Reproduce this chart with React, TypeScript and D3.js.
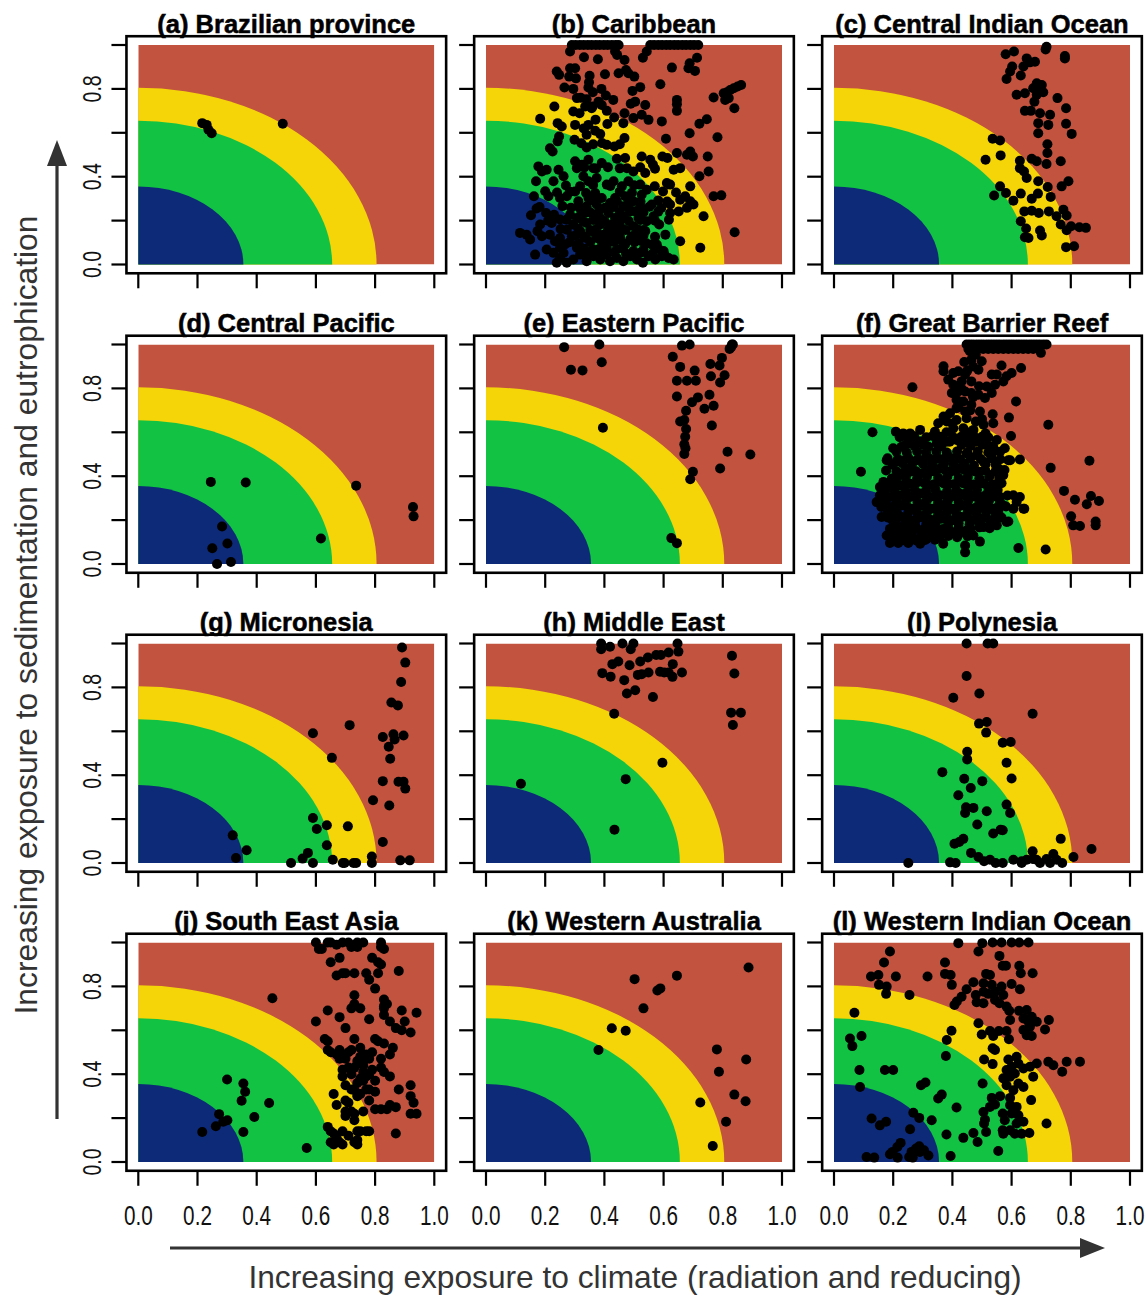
import React from "react";
import * as d3 from "d3";

// ---------- DATA ----------
const titles = [
  "(a) Brazilian province",
  "(b) Caribbean",
  "(c) Central Indian Ocean",
  "(d) Central Pacific",
  "(e) Eastern Pacific",
  "(f) Great Barrier Reef",
  "(g) Micronesia",
  "(h) Middle East",
  "(I) Polynesia",
  "(j) South East Asia",
  "(k) Western Australia",
  "(l) Western Indian Ocean",
];

const xTicks = [0, 0.2, 0.4, 0.6, 0.8, 1.0];
const yTicks = [0, 0.2, 0.4, 0.6, 0.8, 1.0];
const yTickLabels = [0, 0.4, 0.8];
const zoneRadii = [0.805, 0.655, 0.355];

const brazil: [number, number][] = [
  [0.216, 0.644], [0.231, 0.636], [0.237, 0.614], [0.248, 0.598], [0.488, 0.641],
];

const caribbean: [number, number][] = [
  [0.29, 1], [0.303, 1], [0.317, 1], [0.33, 1], [0.344, 1], [0.357, 1], [0.371, 1], [0.384, 1], [0.398, 1], [0.411, 1], [0.425, 1], [0.438, 1], [0.448, 1],
  [0.555, 1], [0.568, 1], [0.582, 1], [0.595, 1], [0.609, 1], [0.622, 1], [0.636, 1], [0.649, 1], [0.663, 1], [0.676, 1], [0.69, 1], [0.703, 1], [0.717, 1],
  [0.284, 0.97], [0.436, 0.97], [0.543, 0.97], [0.443, 0.955],
  [0.331, 0.944], [0.378, 0.935], [0.468, 0.932], [0.53, 0.942], [0.713, 0.942], [0.688, 0.917], [0.628, 0.897], [0.706, 0.882], [0.684, 0.894],
  [0.239, 0.879], [0.247, 0.864], [0.284, 0.894], [0.301, 0.894], [0.402, 0.867], [0.448, 0.871], [0.473, 0.886], [0.481, 0.871], [0.501, 0.856],
  [0.281, 0.856], [0.304, 0.848], [0.348, 0.83], [0.265, 0.806], [0.295, 0.8], [0.346, 0.806], [0.361, 0.785], [0.521, 0.808], [0.495, 0.791],
  [0.405, 0.77], [0.307, 0.758], [0.34, 0.753], [0.38, 0.742], [0.504, 0.742], [0.489, 0.732], [0.645, 0.75], [0.645, 0.73], [0.645, 0.7],
  [0.769, 0.761], [0.803, 0.78], [0.814, 0.785], [0.825, 0.795], [0.837, 0.803], [0.85, 0.811], [0.862, 0.818], [0.82, 0.758], [0.808, 0.75], [0.839, 0.712],
  [0.589, 0.821], [0.538, 0.727], [0.231, 0.72],
  [0.295, 0.697], [0.316, 0.689], [0.335, 0.72], [0.357, 0.712], [0.391, 0.727], [0.408, 0.7], [0.433, 0.67], [0.468, 0.689], [0.464, 0.644], [0.498, 0.667],
  [0.526, 0.682], [0.549, 0.659], [0.594, 0.652], [0.183, 0.664], [0.242, 0.644], [0.256, 0.629], [0.301, 0.636], [0.346, 0.636], [0.369, 0.609], [0.386, 0.594],
  [0.34, 0.591], [0.247, 0.583], [0.242, 0.561], [0.299, 0.568], [0.34, 0.533], [0.408, 0.545], [0.434, 0.538], [0.468, 0.576], [0.216, 0.53], [0.225, 0.515],
  [0.608, 0.573], [0.688, 0.598], [0.721, 0.641], [0.746, 0.662], [0.782, 0.58], [0.526, 0.492], [0.555, 0.477], [0.564, 0.455], [0.596, 0.492], [0.613, 0.485],
  [0.645, 0.508], [0.679, 0.5], [0.69, 0.515], [0.699, 0.492], [0.749, 0.492], [0.656, 0.439], [0.634, 0.432], [0.752, 0.424], [0.721, 0.402],
  [0.442, 0.482], [0.47, 0.485], [0.476, 0.439], [0.498, 0.424], [0.538, 0.417], [0.301, 0.47], [0.307, 0.439], [0.324, 0.455], [0.346, 0.477], [0.363, 0.439],
  [0.391, 0.462], [0.177, 0.447], [0.189, 0.424], [0.205, 0.432], [0.245, 0.432], [0.262, 0.402], [0.169, 0.379], [0.228, 0.379], [0.329, 0.402], [0.346, 0.379],
  [0.374, 0.394], [0.408, 0.364], [0.431, 0.379], [0.459, 0.356], [0.481, 0.379], [0.521, 0.364], [0.543, 0.341], [0.611, 0.371], [0.622, 0.364], [0.69, 0.356],
  [0.769, 0.311], [0.795, 0.315], [0.84, 0.147],
  [0.162, 0.311], [0.211, 0.311], [0.25, 0.303], [0.273, 0.311], [0.301, 0.333], [0.312, 0.288], [0.346, 0.303], [0.369, 0.326], [0.391, 0.303], [0.419, 0.28],
  [0.436, 0.303], [0.47, 0.311], [0.498, 0.288], [0.526, 0.318], [0.56, 0.273], [0.622, 0.273], [0.656, 0.295], [0.673, 0.311], [0.69, 0.288], [0.701, 0.273],
  [0.679, 0.258], [0.651, 0.242], [0.622, 0.235], [0.171, 0.255], [0.152, 0.224], [0.203, 0.235], [0.23, 0.227], [0.25, 0.205], [0.284, 0.227], [0.307, 0.212],
  [0.335, 0.235], [0.363, 0.227], [0.386, 0.212], [0.414, 0.235], [0.436, 0.212], [0.464, 0.22], [0.487, 0.242], [0.515, 0.212], [0.543, 0.197], [0.566, 0.22],
  [0.585, 0.182], [0.735, 0.22], [0.115, 0.144], [0.137, 0.136], [0.149, 0.114], [0.174, 0.152], [0.183, 0.182], [0.189, 0.129], [0.166, 0.045], [0.216, 0.136],
  [0.233, 0.106], [0.25, 0.121], [0.267, 0.091], [0.29, 0.129], [0.318, 0.152], [0.338, 0.121], [0.357, 0.152], [0.374, 0.121], [0.397, 0.136], [0.414, 0.106],
  [0.431, 0.136], [0.453, 0.121], [0.47, 0.091], [0.487, 0.114], [0.504, 0.136], [0.526, 0.106], [0.56, 0.091], [0.656, 0.106], [0.724, 0.076], [0.228, 0.053],
  [0.239, 0.008], [0.25, 0.03], [0.273, 0.008], [0.295, 0.023], [0.318, 0.045], [0.34, 0.015], [0.363, 0.038], [0.386, 0.023], [0.408, 0.045], [0.419, 0.015],
  [0.442, 0.03], [0.464, 0.015], [0.487, 0.038], [0.51, 0.023], [0.53, 0.008], [0.549, 0.038], [0.572, 0.023], [0.594, 0.038], [0.617, 0.03], [0.634, 0.023],
  [0.408, 0.076], [0.38, 0.068], [0.442, 0.068], [0.498, 0.061], [0.352, 0.045], [0.307, 0.076], [0.25, 0.076], [0.205, 0.068], [0.577, 0.091], [0.6, 0.061],
  [0.386, 0.182], [0.34, 0.189], [0.425, 0.182], [0.453, 0.174], [0.498, 0.174], [0.295, 0.182], [0.222, 0.189], [0.538, 0.152], [0.606, 0.136],
  [0.374, 0.273], [0.34, 0.265], [0.464, 0.265], [0.521, 0.265],
  [0.27, 0.36], [0.318, 0.357], [0.362, 0.362], [0.42, 0.358], [0.5, 0.361], [0.57, 0.356],
  [0.2, 0.334], [0.24, 0.328], [0.283, 0.331], [0.338, 0.326], [0.452, 0.332], [0.493, 0.327], [0.598, 0.333], [0.642, 0.328],
  [0.181, 0.262], [0.258, 0.266], [0.287, 0.259], [0.313, 0.263], [0.402, 0.258], [0.432, 0.262], [0.482, 0.258], [0.552, 0.263], [0.592, 0.257],
  [0.21, 0.2], [0.272, 0.204], [0.327, 0.198], [0.362, 0.203], [0.401, 0.197], [0.452, 0.202], [0.482, 0.198], [0.522, 0.203], [0.571, 0.199], [0.618, 0.204],
  [0.252, 0.162], [0.273, 0.158], [0.312, 0.163], [0.352, 0.157], [0.373, 0.162], [0.412, 0.158], [0.441, 0.163], [0.472, 0.157], [0.512, 0.161], [0.533, 0.157],
  [0.282, 0.101], [0.313, 0.097], [0.352, 0.102], [0.392, 0.098], [0.432, 0.103], [0.463, 0.097], [0.502, 0.101], [0.542, 0.097],
  [0.262, 0.052], [0.333, 0.056], [0.382, 0.051], [0.433, 0.055], [0.473, 0.05], [0.522, 0.054], [0.563, 0.05], [0.603, 0.045],
  [0.332, 0.442], [0.372, 0.437], [0.412, 0.443], [0.452, 0.438], [0.521, 0.443], [0.571, 0.436],
  [0.322, 0.552], [0.362, 0.548], [0.392, 0.553], [0.452, 0.548],
  [0.32, 0.76], [0.36, 0.72], [0.37, 0.66], [0.33, 0.62], [0.41, 0.64], [0.39, 0.8], [0.35, 0.86], [0.43, 0.75],
  [0.302, 0.131], [0.332, 0.127], [0.372, 0.132], [0.412, 0.126], [0.452, 0.131], [0.492, 0.127], [0.532, 0.132], [0.571, 0.126],
  [0.322, 0.242], [0.352, 0.238], [0.382, 0.243], [0.452, 0.238], [0.502, 0.243], [0.532, 0.237], [0.582, 0.241],
  [0.362, 0.292], [0.442, 0.288], [0.482, 0.293], [0.522, 0.287], [0.582, 0.292], [0.612, 0.287],
  [0.332, 0.072], [0.362, 0.068], [0.462, 0.073], [0.532, 0.067], [0.582, 0.072],
];

const centralIndian: [number, number][] = [
  [0.718, 0.992], [0.715, 0.98], [0.608, 0.97], [0.58, 0.958], [0.78, 0.95], [0.78, 0.939], [0.651, 0.939], [0.679, 0.924], [0.662, 0.921], [0.64, 0.902],
  [0.602, 0.902], [0.595, 0.879], [0.583, 0.845], [0.631, 0.861], [0.685, 0.826], [0.702, 0.818], [0.673, 0.803], [0.707, 0.785], [0.617, 0.773], [0.645, 0.78],
  [0.685, 0.773], [0.696, 0.791], [0.755, 0.758], [0.677, 0.742], [0.645, 0.7], [0.665, 0.7], [0.696, 0.689], [0.73, 0.682], [0.784, 0.712], [0.69, 0.644],
  [0.69, 0.598], [0.724, 0.636], [0.784, 0.641], [0.803, 0.595], [0.536, 0.573], [0.561, 0.565], [0.563, 0.497], [0.512, 0.477], [0.721, 0.548], [0.721, 0.508],
  [0.718, 0.458], [0.668, 0.482], [0.685, 0.47], [0.628, 0.473], [0.628, 0.439], [0.642, 0.424], [0.651, 0.394], [0.766, 0.47], [0.69, 0.379], [0.722, 0.353],
  [0.732, 0.308], [0.792, 0.379], [0.769, 0.356], [0.561, 0.356], [0.541, 0.314], [0.581, 0.326], [0.606, 0.291], [0.631, 0.323], [0.668, 0.3], [0.689, 0.323],
  [0.643, 0.242], [0.668, 0.245], [0.692, 0.235], [0.726, 0.242], [0.752, 0.22], [0.775, 0.25], [0.786, 0.223], [0.766, 0.182], [0.786, 0.156], [0.801, 0.174],
  [0.829, 0.17], [0.851, 0.167], [0.631, 0.197], [0.649, 0.164], [0.645, 0.124], [0.657, 0.121], [0.696, 0.155], [0.702, 0.132], [0.784, 0.079], [0.811, 0.083],
];

const centralPacific: [number, number][] = [
  [0.245, 0.374], [0.363, 0.371], [0.736, 0.357], [0.928, 0.26], [0.93, 0.217], [0.283, 0.171],
  [0.301, 0.093], [0.25, 0.072], [0.266, 0.0], [0.313, 0.009], [0.617, 0.116],
];

const easternPacific: [number, number][] = [
  [0.264, 0.988], [0.383, 1.0], [0.287, 0.885], [0.326, 0.882], [0.391, 0.919], [0.395, 0.621], [0.662, 0.995], [0.688, 1.0], [0.631, 0.944], [0.656, 0.898],
  [0.645, 0.835], [0.679, 0.835], [0.705, 0.881], [0.709, 0.835], [0.645, 0.763], [0.716, 0.759], [0.696, 0.737], [0.676, 0.698], [0.738, 0.707], [0.769, 0.721],
  [0.755, 0.771], [0.758, 0.911], [0.76, 0.855], [0.789, 0.904], [0.797, 0.939], [0.806, 0.86], [0.791, 0.827], [0.823, 0.98], [0.831, 1.0], [0.834, 1.0],
  [0.828, 0.988], [0.656, 0.649], [0.67, 0.656], [0.676, 0.615], [0.673, 0.58], [0.67, 0.545], [0.674, 0.527], [0.67, 0.501], [0.763, 0.631], [0.816, 0.511],
  [0.893, 0.499], [0.791, 0.435], [0.699, 0.42], [0.69, 0.386], [0.626, 0.118], [0.645, 0.095],
];

const greatBarrier: [number, number][] = [
  [0.448, 1], [0.459, 1], [0.47, 1], [0.482, 1], [0.493, 1], [0.504, 1], [0.516, 1], [0.527, 1], [0.538, 1], [0.549, 1], [0.56, 1], [0.572, 1], [0.583, 1],
  [0.594, 1], [0.605, 1], [0.617, 1], [0.628, 1], [0.639, 1], [0.65, 1], [0.662, 1], [0.673, 1], [0.684, 1], [0.695, 1], [0.707, 1], [0.718, 1],
  [0.454, 0.98], [0.47, 0.98], [0.487, 0.98], [0.504, 0.98], [0.521, 0.98], [0.538, 0.98], [0.555, 0.98], [0.572, 0.98], [0.589, 0.98], [0.606, 0.98],
  [0.622, 0.98], [0.639, 0.98], [0.656, 0.98], [0.673, 0.98],
  [0.699, 0.962], [0.632, 0.893], [0.6, 0.87], [0.583, 0.855], [0.566, 0.904], [0.55, 0.863], [0.533, 0.863], [0.572, 0.832], [0.544, 0.817], [0.516, 0.809],
  [0.488, 0.885], [0.499, 0.924], [0.464, 0.931], [0.479, 0.954], [0.459, 0.969], [0.37, 0.901], [0.37, 0.878], [0.403, 0.87], [0.42, 0.878], [0.443, 0.863],
  [0.464, 0.832], [0.431, 0.832], [0.403, 0.817], [0.386, 0.84], [0.398, 0.779], [0.42, 0.786], [0.443, 0.786], [0.464, 0.779], [0.488, 0.771], [0.51, 0.756],
  [0.533, 0.779], [0.414, 0.748], [0.437, 0.74], [0.464, 0.725], [0.493, 0.695], [0.414, 0.71], [0.443, 0.695], [0.392, 0.687], [0.37, 0.672], [0.381, 0.649],
  [0.414, 0.656], [0.448, 0.664], [0.479, 0.649], [0.505, 0.634], [0.536, 0.682], [0.538, 0.641], [0.591, 0.667], [0.615, 0.74], [0.265, 0.805], [0.724, 0.634],
  [0.598, 0.583], [0.512, 0.595], [0.471, 0.611], [0.437, 0.618], [0.403, 0.618], [0.352, 0.641], [0.341, 0.603], [0.291, 0.611], [0.257, 0.595], [0.234, 0.595],
  [0.209, 0.603], [0.13, 0.6], [0.2, 0.527], [0.228, 0.534], [0.257, 0.55], [0.291, 0.557], [0.319, 0.534], [0.347, 0.55], [0.381, 0.557], [0.414, 0.565],
  [0.448, 0.573], [0.482, 0.557], [0.516, 0.542], [0.538, 0.534], [0.561, 0.511], [0.589, 0.473], [0.628, 0.476], [0.732, 0.438], [0.863, 0.47], [0.091, 0.42],
  [0.178, 0.473], [0.211, 0.466], [0.245, 0.481], [0.279, 0.473], [0.313, 0.489], [0.347, 0.481], [0.381, 0.496], [0.414, 0.489], [0.448, 0.504], [0.482, 0.496],
  [0.505, 0.466], [0.533, 0.481], [0.556, 0.435], [0.572, 0.405], [0.527, 0.405], [0.493, 0.42], [0.459, 0.427], [0.426, 0.435], [0.392, 0.42], [0.358, 0.435],
  [0.324, 0.42], [0.291, 0.412], [0.257, 0.42], [0.223, 0.405], [0.195, 0.389], [0.167, 0.374], [0.155, 0.351], [0.189, 0.351], [0.223, 0.359], [0.257, 0.366],
  [0.285, 0.374], [0.319, 0.359], [0.352, 0.374], [0.386, 0.366], [0.42, 0.374], [0.454, 0.359], [0.488, 0.366], [0.521, 0.351], [0.55, 0.336], [0.155, 0.313],
  [0.189, 0.305], [0.223, 0.313], [0.257, 0.305], [0.291, 0.321], [0.324, 0.305], [0.358, 0.313], [0.392, 0.305], [0.426, 0.321], [0.459, 0.313], [0.493, 0.305],
  [0.527, 0.313], [0.561, 0.305], [0.572, 0.267], [0.606, 0.313], [0.628, 0.305], [0.64, 0.252], [0.606, 0.252], [0.144, 0.282], [0.16, 0.26], [0.194, 0.26],
  [0.228, 0.267], [0.262, 0.252], [0.296, 0.267], [0.329, 0.252], [0.364, 0.267], [0.398, 0.252], [0.431, 0.267], [0.465, 0.252], [0.499, 0.26], [0.533, 0.252],
  [0.555, 0.237], [0.583, 0.191], [0.161, 0.214], [0.194, 0.206], [0.228, 0.214], [0.262, 0.198], [0.296, 0.214], [0.329, 0.198], [0.364, 0.206], [0.398, 0.198],
  [0.431, 0.214], [0.465, 0.198], [0.499, 0.206], [0.527, 0.198], [0.55, 0.176], [0.505, 0.168], [0.189, 0.16], [0.223, 0.168], [0.257, 0.16], [0.291, 0.153],
  [0.324, 0.168], [0.369, 0.16], [0.403, 0.145], [0.448, 0.153], [0.471, 0.13], [0.178, 0.13], [0.212, 0.115], [0.245, 0.122], [0.279, 0.107], [0.313, 0.115],
  [0.347, 0.13], [0.189, 0.096], [0.217, 0.096], [0.251, 0.096], [0.291, 0.092], [0.369, 0.092], [0.443, 0.084], [0.443, 0.053], [0.493, 0.102], [0.623, 0.073],
  [0.715, 0.066], [0.617, 0.282], [0.643, 0.252], [0.589, 0.194], [0.777, 0.333], [0.814, 0.293], [0.854, 0.272], [0.868, 0.31], [0.895, 0.287], [0.801, 0.217],
  [0.808, 0.176], [0.831, 0.173], [0.884, 0.194], [0.884, 0.176], [0.538, 0.511], [0.55, 0.565], [0.577, 0.527], [0.595, 0.473],
  [0.44, 0.92], [0.47, 0.9], [0.45, 0.88], [0.43, 0.8], [0.47, 0.76], [0.49, 0.81], [0.42, 0.72], [0.46, 0.7], [0.5, 0.66], [0.4, 0.64],
  [0.45, 0.6], [0.43, 0.58], [0.5, 0.58], [0.38, 0.6], [0.36, 0.58],
  [0.197, 0.452], [0.232, 0.458], [0.263, 0.449], [0.301, 0.456], [0.333, 0.451], [0.372, 0.458], [0.404, 0.452], [0.441, 0.457], [0.473, 0.449], [0.512, 0.455], [0.546, 0.452],
  [0.212, 0.392], [0.243, 0.398], [0.281, 0.391], [0.314, 0.397], [0.352, 0.393], [0.383, 0.398], [0.421, 0.392], [0.452, 0.396], [0.491, 0.391], [0.524, 0.397], [0.558, 0.392],
  [0.172, 0.334], [0.204, 0.338], [0.242, 0.332], [0.273, 0.337], [0.311, 0.333], [0.343, 0.338], [0.382, 0.331], [0.413, 0.336], [0.452, 0.332], [0.483, 0.338], [0.522, 0.333], [0.553, 0.337],
  [0.174, 0.286], [0.211, 0.282], [0.243, 0.287], [0.282, 0.283], [0.313, 0.288], [0.352, 0.281], [0.384, 0.286], [0.421, 0.282], [0.453, 0.287], [0.492, 0.283], [0.523, 0.286], [0.561, 0.281],
  [0.182, 0.236], [0.213, 0.232], [0.251, 0.237], [0.281, 0.233], [0.314, 0.238], [0.352, 0.232], [0.381, 0.236], [0.413, 0.231], [0.452, 0.237], [0.481, 0.233], [0.514, 0.236], [0.546, 0.231],
  [0.202, 0.186], [0.241, 0.182], [0.273, 0.187], [0.312, 0.183], [0.344, 0.188], [0.386, 0.182], [0.421, 0.186], [0.458, 0.181], [0.491, 0.186], [0.532, 0.182],
  [0.201, 0.141], [0.232, 0.137], [0.262, 0.142], [0.301, 0.138], [0.331, 0.143], [0.362, 0.137], [0.392, 0.141], [0.421, 0.136], [0.462, 0.141],
  [0.201, 0.111], [0.233, 0.108], [0.271, 0.112], [0.308, 0.109], [0.341, 0.111],
  [0.222, 0.578], [0.271, 0.582], [0.312, 0.577], [0.333, 0.583], [0.402, 0.578], [0.472, 0.583], [0.521, 0.577],
  [0.241, 0.542], [0.272, 0.538], [0.303, 0.543], [0.362, 0.537], [0.431, 0.542], [0.462, 0.538], [0.502, 0.543], [0.531, 0.537],
  [0.181, 0.482], [0.216, 0.478], [0.251, 0.483], [0.286, 0.477], [0.321, 0.482], [0.356, 0.478], [0.391, 0.483], [0.426, 0.477], [0.461, 0.482], [0.496, 0.478], [0.531, 0.483], [0.562, 0.477],
  [0.176, 0.426], [0.211, 0.422], [0.241, 0.427], [0.276, 0.423], [0.311, 0.428], [0.341, 0.422], [0.376, 0.427], [0.411, 0.423], [0.441, 0.428], [0.476, 0.422], [0.511, 0.427], [0.546, 0.423], [0.576, 0.428],
  [0.171, 0.366], [0.206, 0.362], [0.241, 0.367], [0.271, 0.363], [0.306, 0.368], [0.336, 0.362], [0.371, 0.367], [0.406, 0.363], [0.436, 0.368], [0.471, 0.362], [0.506, 0.367], [0.536, 0.363], [0.566, 0.368],
  [0.171, 0.311], [0.206, 0.307], [0.241, 0.312], [0.276, 0.308], [0.311, 0.313], [0.341, 0.307], [0.376, 0.312], [0.411, 0.308], [0.441, 0.313], [0.476, 0.307], [0.511, 0.312], [0.546, 0.308], [0.586, 0.312],
  [0.176, 0.262], [0.211, 0.258], [0.246, 0.263], [0.281, 0.257], [0.311, 0.262], [0.346, 0.258], [0.381, 0.263], [0.416, 0.257], [0.451, 0.262], [0.481, 0.258], [0.516, 0.263], [0.551, 0.257], [0.581, 0.262],
  [0.181, 0.212], [0.211, 0.208], [0.246, 0.213], [0.281, 0.207], [0.316, 0.212], [0.346, 0.208], [0.381, 0.213], [0.416, 0.207], [0.451, 0.212], [0.481, 0.208], [0.511, 0.213], [0.541, 0.207], [0.566, 0.212],
  [0.206, 0.167], [0.241, 0.163], [0.276, 0.168], [0.306, 0.162], [0.341, 0.167], [0.386, 0.163], [0.421, 0.168], [0.461, 0.162], [0.491, 0.167], [0.526, 0.163],
  [0.196, 0.127], [0.226, 0.123], [0.261, 0.128], [0.291, 0.122], [0.321, 0.127], [0.356, 0.123], [0.386, 0.128], [0.416, 0.122], [0.451, 0.127],
  [0.211, 0.512], [0.246, 0.508], [0.281, 0.513], [0.311, 0.507], [0.346, 0.512], [0.381, 0.508], [0.416, 0.513], [0.451, 0.507], [0.486, 0.512], [0.521, 0.508],
  [0.251, 0.562], [0.291, 0.558], [0.351, 0.563], [0.391, 0.557], [0.426, 0.562], [0.461, 0.558], [0.491, 0.563],
];

const micronesia: [number, number][] = [
  [0.891, 0.982], [0.902, 0.913], [0.888, 0.825], [0.855, 0.731], [0.877, 0.718], [0.714, 0.628], [0.59, 0.591], [0.826, 0.574], [0.862, 0.586], [0.896, 0.581],
  [0.866, 0.563], [0.846, 0.53], [0.654, 0.479], [0.851, 0.475], [0.826, 0.373], [0.879, 0.37], [0.896, 0.37], [0.902, 0.339], [0.793, 0.286], [0.848, 0.262],
  [0.59, 0.205], [0.637, 0.172], [0.708, 0.167], [0.603, 0.155], [0.319, 0.126], [0.637, 0.081], [0.366, 0.058], [0.33, 0.023], [0.573, 0.046], [0.555, 0.02],
  [0.516, 0.0], [0.59, 0.0], [0.657, 0.015], [0.691, 0.0], [0.697, 0.0], [0.727, 0.0], [0.736, 0.0], [0.789, 0.0], [0.789, 0.03], [0.826, 0.096],
  [0.885, 0.012], [0.917, 0.012],
];

const middleEast: [number, number][] = [
  [0.118, 0.361], [0.434, 0.152], [0.472, 0.382], [0.596, 0.457], [0.433, 0.68], [0.564, 0.756], [0.476, 0.772], [0.504, 0.787], [0.467, 0.833], [0.393, 0.865],
  [0.421, 0.849], [0.389, 1.0], [0.389, 0.974], [0.419, 0.985], [0.461, 1.0], [0.489, 0.974], [0.498, 1.0], [0.427, 0.906], [0.447, 0.918], [0.485, 0.901],
  [0.521, 0.918], [0.547, 0.936], [0.575, 0.948], [0.591, 0.948], [0.617, 0.959], [0.647, 1.0], [0.65, 0.963], [0.631, 0.906], [0.513, 0.857], [0.526, 0.86],
  [0.549, 0.868], [0.588, 0.871], [0.602, 0.868], [0.617, 0.868], [0.63, 0.848], [0.662, 0.868], [0.831, 0.944], [0.839, 0.863], [0.828, 0.685], [0.861, 0.685],
  [0.834, 0.629],
];

const polynesia: [number, number][] = [
  [0.448, 1.0], [0.519, 1.0], [0.538, 1.0], [0.448, 0.852], [0.491, 0.772], [0.403, 0.753], [0.671, 0.68], [0.49, 0.635], [0.516, 0.642], [0.514, 0.594],
  [0.57, 0.548], [0.597, 0.551], [0.45, 0.507], [0.45, 0.472], [0.583, 0.457], [0.366, 0.414], [0.44, 0.384], [0.501, 0.373], [0.6, 0.385], [0.462, 0.342],
  [0.42, 0.309], [0.446, 0.254], [0.471, 0.251], [0.443, 0.228], [0.516, 0.236], [0.583, 0.266], [0.595, 0.228], [0.484, 0.175], [0.538, 0.134], [0.563, 0.152],
  [0.57, 0.149], [0.437, 0.11], [0.407, 0.088], [0.423, 0.096], [0.766, 0.11], [0.87, 0.064], [0.463, 0.046], [0.488, 0.027], [0.507, 0.008], [0.527, 0.015],
  [0.546, 0.0], [0.57, 0.0], [0.606, 0.015], [0.634, 0.008], [0.651, 0.015], [0.671, 0.053], [0.671, 0.018], [0.696, 0.0], [0.718, 0.018], [0.73, 0.0],
  [0.741, 0.041], [0.752, 0.015], [0.771, 0.0], [0.809, 0.027], [0.634, 0.0], [0.251, 0.0], [0.392, 0.003], [0.411, 0.0], [0.684, 0.015],
];

const southEastAsia: [number, number][] = [
  [0.216, 0.137], [0.262, 0.163], [0.273, 0.218], [0.287, 0.183], [0.301, 0.19], [0.3, 0.376], [0.355, 0.358], [0.361, 0.32], [0.349, 0.279], [0.355, 0.137],
  [0.392, 0.205], [0.442, 0.269], [0.569, 0.064], [0.453, 0.746],
  [0.6, 1.0], [0.61, 0.97], [0.62, 0.97], [0.64, 1.0], [0.65, 1.0], [0.67, 0.99], [0.69, 1.0], [0.71, 1.0], [0.72, 0.98], [0.74, 1.0], [0.76, 1.0], [0.74, 0.98],
  [0.82, 1.0], [0.83, 0.97], [0.82, 0.98], [0.65, 0.91], [0.68, 0.93], [0.67, 0.85], [0.69, 0.86], [0.7, 0.86], [0.73, 0.86], [0.77, 0.86], [0.79, 0.93],
  [0.81, 0.86], [0.81, 0.91], [0.82, 0.9], [0.88, 0.87], [0.78, 0.83], [0.8, 0.79], [0.73, 0.76], [0.73, 0.72], [0.72, 0.7], [0.75, 0.7], [0.78, 0.65],
  [0.83, 0.74], [0.83, 0.71], [0.84, 0.72], [0.83, 0.7], [0.83, 0.67], [0.85, 0.64], [0.89, 0.69], [0.9, 0.64], [0.94, 0.68], [0.92, 0.59], [0.89, 0.6],
  [0.87, 0.61], [0.68, 0.66], [0.64, 0.69], [0.7, 0.61], [0.6, 0.64], [0.63, 0.56], [0.64, 0.55], [0.64, 0.51], [0.65, 0.5], [0.67, 0.49], [0.68, 0.51],
  [0.69, 0.49], [0.7, 0.47], [0.72, 0.51], [0.73, 0.56], [0.75, 0.48], [0.76, 0.46], [0.78, 0.47], [0.8, 0.56], [0.81, 0.55], [0.83, 0.54], [0.86, 0.52],
  [0.85, 0.49], [0.82, 0.47], [0.82, 0.43], [0.83, 0.41], [0.85, 0.39], [0.88, 0.33], [0.92, 0.35], [0.92, 0.3], [0.93, 0.27], [0.94, 0.22], [0.92, 0.22],
  [0.87, 0.25], [0.85, 0.26], [0.84, 0.24], [0.82, 0.24], [0.8, 0.24], [0.78, 0.28], [0.75, 0.31], [0.73, 0.33], [0.74, 0.36], [0.76, 0.37], [0.77, 0.39],
  [0.78, 0.33], [0.76, 0.41], [0.73, 0.43], [0.71, 0.43], [0.69, 0.42], [0.69, 0.39], [0.7, 0.35], [0.72, 0.33], [0.74, 0.31], [0.74, 0.3], [0.71, 0.27],
  [0.7, 0.23], [0.7, 0.21], [0.72, 0.23], [0.73, 0.22], [0.76, 0.23], [0.67, 0.26], [0.66, 0.31], [0.7, 0.28], [0.64, 0.16], [0.65, 0.14], [0.66, 0.13],
  [0.67, 0.11], [0.65, 0.09], [0.68, 0.09], [0.69, 0.14], [0.71, 0.12], [0.73, 0.09], [0.74, 0.08], [0.74, 0.1], [0.74, 0.14], [0.75, 0.14], [0.77, 0.14],
  [0.78, 0.14], [0.73, 0.19], [0.87, 0.13], [0.66, 0.08], [0.69, 0.08],
  [0.75, 0.38], [0.77, 0.33], [0.76, 0.44], [0.79, 0.42], [0.72, 0.4], [0.74, 0.46], [0.77, 0.49], [0.8, 0.37], [0.71, 0.5], [0.68, 0.47], [0.75, 0.52],
  [0.78, 0.4], [0.8, 0.32], [0.79, 0.5],
];

const westernAustralia: [number, number][] = [
  [0.887, 0.886], [0.502, 0.833], [0.645, 0.849], [0.589, 0.791], [0.579, 0.781], [0.532, 0.7], [0.425, 0.609], [0.472, 0.598], [0.38, 0.51], [0.78, 0.513],
  [0.879, 0.467], [0.787, 0.411], [0.839, 0.307], [0.877, 0.277], [0.724, 0.271], [0.811, 0.183], [0.766, 0.073],
];

const westernIndian: [number, number][] = [
  [0.42, 0.997], [0.501, 0.997], [0.536, 1.0], [0.566, 1.0], [0.6, 1.0], [0.626, 1.0], [0.657, 1.0], [0.488, 0.959], [0.559, 0.939], [0.189, 0.959],
  [0.169, 0.909], [0.125, 0.845], [0.15, 0.852], [0.209, 0.845], [0.152, 0.807], [0.178, 0.799], [0.176, 0.766], [0.255, 0.761], [0.316, 0.845], [0.375, 0.909],
  [0.375, 0.857], [0.394, 0.852], [0.398, 0.807], [0.57, 0.894], [0.581, 0.894], [0.626, 0.894], [0.631, 0.86], [0.671, 0.86], [0.514, 0.857], [0.527, 0.852],
  [0.471, 0.819], [0.505, 0.814], [0.533, 0.807], [0.566, 0.799], [0.6, 0.811], [0.628, 0.787], [0.448, 0.787], [0.431, 0.753], [0.415, 0.731], [0.407, 0.715],
  [0.479, 0.761], [0.505, 0.776], [0.521, 0.766], [0.544, 0.776], [0.482, 0.728], [0.505, 0.723], [0.544, 0.738], [0.559, 0.723], [0.572, 0.761], [0.583, 0.708],
  [0.592, 0.689], [0.595, 0.647], [0.625, 0.689], [0.651, 0.692], [0.64, 0.654], [0.657, 0.639], [0.668, 0.662], [0.685, 0.639], [0.662, 0.616], [0.64, 0.601],
  [0.651, 0.578], [0.668, 0.574], [0.726, 0.647], [0.713, 0.604], [0.488, 0.632], [0.527, 0.597], [0.499, 0.581], [0.538, 0.574], [0.557, 0.597], [0.583, 0.597],
  [0.591, 0.559], [0.536, 0.518], [0.544, 0.51], [0.507, 0.467], [0.536, 0.446], [0.397, 0.598], [0.381, 0.556], [0.378, 0.483], [0.069, 0.68], [0.054, 0.563],
  [0.062, 0.528], [0.093, 0.574], [0.086, 0.419], [0.088, 0.342], [0.172, 0.419], [0.2, 0.419], [0.294, 0.35], [0.309, 0.362], [0.502, 0.358], [0.352, 0.289],
  [0.364, 0.307], [0.414, 0.248], [0.268, 0.224], [0.288, 0.201], [0.33, 0.19], [0.127, 0.198], [0.155, 0.167], [0.176, 0.183], [0.257, 0.149], [0.38, 0.125],
  [0.437, 0.11], [0.471, 0.132], [0.485, 0.091], [0.505, 0.228], [0.51, 0.193], [0.507, 0.175], [0.514, 0.137], [0.527, 0.251], [0.555, 0.05], [0.394, 0.027],
  [0.225, 0.087], [0.214, 0.068], [0.198, 0.046], [0.189, 0.035], [0.215, 0.02], [0.254, 0.023], [0.262, 0.046], [0.277, 0.061], [0.29, 0.046], [0.304, 0.053],
  [0.319, 0.03], [0.288, 0.072], [0.11, 0.023], [0.136, 0.02], [0.266, 0.02], [0.533, 0.292], [0.544, 0.262], [0.561, 0.3], [0.57, 0.221], [0.577, 0.19],
  [0.57, 0.145], [0.572, 0.129], [0.595, 0.145], [0.611, 0.129], [0.634, 0.129], [0.66, 0.132], [0.64, 0.183], [0.623, 0.213], [0.617, 0.251], [0.595, 0.259],
  [0.595, 0.292], [0.606, 0.327], [0.583, 0.35], [0.572, 0.381], [0.595, 0.388], [0.611, 0.403], [0.583, 0.419], [0.6, 0.434], [0.589, 0.467], [0.617, 0.479],
  [0.623, 0.449], [0.64, 0.426], [0.662, 0.434], [0.685, 0.449], [0.673, 0.388], [0.666, 0.282], [0.718, 0.175], [0.724, 0.457], [0.741, 0.441], [0.771, 0.411],
  [0.786, 0.457], [0.831, 0.457], [0.623, 0.358], [0.64, 0.342], [0.6, 0.221], [0.617, 0.175],
];

const panelPoints = [
  brazil, caribbean, centralIndian, centralPacific, easternPacific, greatBarrier,
  micronesia, middleEast, polynesia, southEastAsia, westernAustralia, westernIndian,
];

// ---------- LAYOUT / STYLE ----------
const W = 1147;
const H = 1296;
const colLeft = [138.3, 486, 834];
const rowTop = [45, 344.5, 643.5, 942.5];
const plotW = 296;
const plotH = 219.5;
const padX = plotW * 0.04;
const padY = plotH * 0.04;
const bgColor = "#C1533F";
const zoneColors = ["#F5D508", "#12C343", "#0D2A78"];
const fontFamily = "'Liberation Sans', Arial, Helvetica, sans-serif";
const axisGray = "#333333";
const dotR = 5;

function Panel({ idx }: { idx: number }) {
  const col = idx % 3;
  const row = Math.floor(idx / 3);
  const L = colLeft[col];
  const T = rowTop[row];
  const xs = d3.scaleLinear().domain([0, 1]).range([L, L + plotW]);
  const ys = d3.scaleLinear().domain([0, 1]).range([T + plotH, T]);
  const bx0 = L - padX;
  const bx1 = L + plotW + padX;
  const by0 = T - padY;
  const by1 = T + plotH + padY;
  const clipId = `clip${idx}`;
  const pts = panelPoints[idx];
  return (
    <g>
      <defs>
        <clipPath id={clipId}>
          <rect x={xs(0)} y={ys(1)} width={xs(1) - xs(0)} height={ys(0) - ys(1)} />
        </clipPath>
      </defs>
      <g clipPath={`url(#${clipId})`}>
        <rect x={xs(0)} y={ys(1)} width={xs(1) - xs(0)} height={ys(0) - ys(1)} fill={bgColor} />
        {zoneRadii.map((r, i) => (
          <ellipse
            key={i}
            cx={xs(0)}
            cy={ys(0)}
            rx={xs(r) - xs(0)}
            ry={ys(0) - ys(r)}
            fill={zoneColors[i]}
          />
        ))}
      </g>
      {pts.map((p, i) => (
        <circle key={i} cx={xs(p[0])} cy={ys(p[1])} r={dotR} fill="#000" />
      ))}
      <rect x={bx0} y={by0} width={bx1 - bx0} height={by1 - by0} fill="none" stroke="#000" strokeWidth={2.6} />
      {xTicks.map((t) => (
        <line key={"xt" + t} x1={xs(t)} x2={xs(t)} y1={by1} y2={by1 + 15} stroke="#000" strokeWidth={2.2} />
      ))}
      {yTicks.map((t) => (
        <line key={"yt" + t} x1={bx0} x2={bx0 - 15} y1={ys(t)} y2={ys(t)} stroke="#000" strokeWidth={2.2} />
      ))}
      {row === 3 &&
        xTicks.map((t) => (
          <text
            key={"xl" + t}
            transform={`translate(${xs(t)},${by1 + 54.5}) scale(0.74,1)`}
            textAnchor="middle"
            fontFamily={fontFamily}
            fontSize={28}
            fill="#111"
          >
            {t.toFixed(1)}
          </text>
        ))}
      {col === 0 &&
        yTickLabels.map((t) => (
          <text
            key={"yl" + t}
            transform={`translate(${bx0 - 25},${ys(t)}) rotate(-90) scale(0.78,1)`}
            textAnchor="middle"
            fontFamily={fontFamily}
            fontSize={25}
            fill="#111"
          >
            {t.toFixed(1)}
          </text>
        ))}
      <text
        x={L + plotW / 2}
        y={by0 - 3.5}
        textAnchor="middle"
        fontFamily={fontFamily}
        fontWeight="bold"
        fontSize={25.5}
        fill="#000"
        stroke="#000"
        strokeWidth={0.5}
      >
        {titles[idx]}
      </text>
    </g>
  );
}

export default function App() {
  return (
    <svg
      width={W}
      height={H}
      viewBox={`0 0 ${W} ${H}`}
      style={{ position: "absolute", left: 0, top: 0, background: "#fff" }}
    >
      <rect x={0} y={0} width={W} height={H} fill="#fff" />
      {titles.map((_, i) => (
        <Panel key={i} idx={i} />
      ))}
      <line x1={57} x2={57} y1={1119} y2={162} stroke={axisGray} strokeWidth={3.2} />
      <path d="M57,140 L47,166 L67,166 Z" fill={axisGray} />
      <line x1={170} x2={1083} y1={1248} y2={1248} stroke={axisGray} strokeWidth={3.2} />
      <path d="M1105,1248 L1080,1238 L1080,1258 Z" fill={axisGray} />
      <text
        transform={`translate(37,615) rotate(-90)`}
        textAnchor="middle"
        fontFamily={fontFamily}
        fontSize={31.8}
        fill={axisGray}
      >
        Increasing exposure to sedimentation and eutrophication
      </text>
      <text
        x={635}
        y={1288}
        textAnchor="middle"
        fontFamily={fontFamily}
        fontSize={31.7}
        fill={axisGray}
      >
        Increasing exposure to climate (radiation and reducing)
      </text>
    </svg>
  );
}
